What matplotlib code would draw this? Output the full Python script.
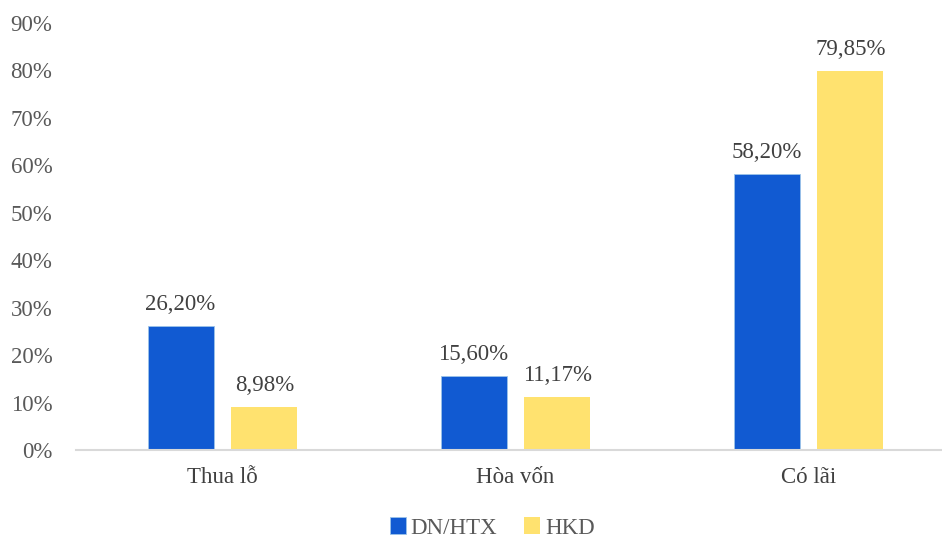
import matplotlib
matplotlib.use('Agg')
import matplotlib.pyplot as plt
import numpy as np

categories = ['Thua lỗ', 'Hòa vốn', 'Có lãi']
dn_htx = [26.20, 15.60, 58.20]
hkd = [8.98, 11.17, 79.85]
series_names = ['DN/HTX', 'HKD']
yticks = [0, 10, 20, 30, 40, 50, 60, 70, 80, 90]

plt.rcParams['font.family'] = ['Liberation Serif', 'DejaVu Serif']

fig = plt.figure(figsize=(9.42, 5.4), dpi=100)
ax = fig.add_axes([76 / 942, 90 / 540, 879 / 942, 427 / 540])

x = np.arange(len(categories))
width = 0.225
off = 0.143
blue = '#115AD2'
yellow = '#FFE26F'

b1 = ax.bar(x - off, dn_htx, width, color=blue, edgecolor='#9CC3E8', linewidth=0.6, label=series_names[0])
b2 = ax.bar(x + off, hkd, width, color=yellow, label=series_names[1])

def fmt(v):
    return ('%.2f' % v).replace('.', ',') + '%'

for bars, vals in ((b1, dn_htx), (b2, hkd)):
    for rect, v in zip(bars, vals):
        ax.annotate(fmt(v), (rect.get_x() + rect.get_width() / 2, v),
                    xytext=(0, 8), textcoords='offset points',
                    ha='center', va='bottom', fontsize=16.5, color='#404040')

ax.set_xlim(-0.5, 2.5)
ax.set_ylim(0, 90)
ax.set_yticks(yticks)
ax.set_yticklabels(['%d%%' % t for t in yticks], fontsize=16.5, color='#595959')
ax.set_xticks(x)
ax.set_xticklabels(categories, fontsize=16.5, color='#404040')
ax.tick_params(axis='y', length=0, pad=17)
ax.tick_params(axis='x', length=0, pad=12)
for s in ['top', 'right', 'left']:
    ax.spines[s].set_visible(False)
ax.spines['bottom'].set_color('#D9D9D9')
ax.spines['bottom'].set_linewidth(1.5)

fig.legend(handles=[b1, b2], labels=series_names, loc='center',
           bbox_to_anchor=(492 / 942, 1 - 528 / 540), ncol=2, frameon=False,
           fontsize=16.5, handlelength=0.7, handleheight=0.7, handletextpad=0.2,
           columnspacing=1.2, labelcolor='#595959')

plt.savefig('out.png')
plt.close()
